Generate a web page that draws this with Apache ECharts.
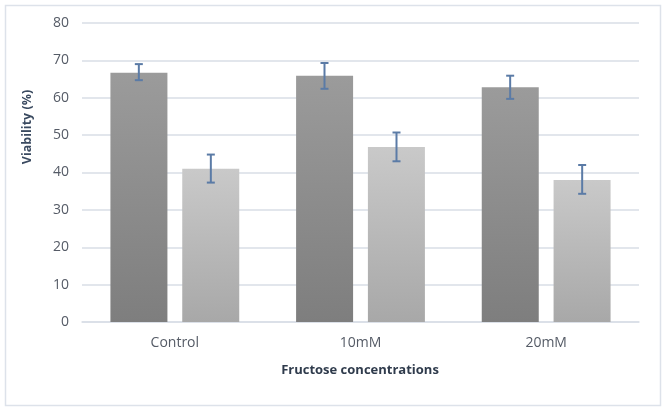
<!DOCTYPE html>
<html>
<head>
    <meta charset="utf-8">
    <title>Viability</title>
    <script src="https://cdn.jsdelivr.net/npm/echarts@6/dist/echarts.min.js"></script>
    <style>
        html, body { margin: 0; padding: 0; background: #fff; }
        #main { width: 663px; height: 407px; }
    </style>
</head>
<body>
<div id="main"></div>
<script>
    // data
    var categories = ['Control', '10mM', '20mM'];
    var yTicks = [0, 10, 20, 30, 40, 50, 60, 70, 80];
    var darkValues = [66.7, 65.9, 62.8];
    var darkLow = [64.7, 62.4, 59.7];
    var darkHigh = [69.0, 69.3, 65.9];
    var lightValues = [41.0, 46.8, 38.0];
    var lightLow = [37.3, 43.0, 34.3];
    var lightHigh = [44.8, 50.7, 42.0];

    var barW = 57;
    var pairOffset = 36; // half of (bar width + gap)

    function errData(low, high) {
        return categories.map(function (c, i) { return [i, low[i], high[i]]; });
    }

    function errRender(offset) {
        return function (params, api) {
            var lo = api.coord([api.value(0), api.value(1)]);
            var hi = api.coord([api.value(0), api.value(2)]);
            var x = lo[0] + offset;
            var cap = 4;
            var style = { stroke: '#5b7ba6', lineWidth: 2 };
            return {
                type: 'group',
                children: [
                    { type: 'line', shape: { x1: x, y1: hi[1], x2: x, y2: lo[1] }, style: style },
                    { type: 'line', shape: { x1: x - cap, y1: hi[1], x2: x + cap, y2: hi[1] }, style: style },
                    { type: 'line', shape: { x1: x - cap, y1: lo[1], x2: x + cap, y2: lo[1] }, style: style }
                ]
            };
        };
    }

    var chart = echarts.init(document.getElementById('main'));
    chart.setOption({
        animation: false,
        textStyle: { fontFamily: 'Open Sans' },
        grid: { left: 82, right: 24, top: 23, bottom: 85 },
        graphic: [
            {
                type: 'rect', left: 3, top: 3, silent: true,
                shape: { width: 655, height: 400 },
                style: { fill: 'none', stroke: '#dde2ea', lineWidth: 1.5 }
            },
            {
                type: 'text', x: 27, y: 127, rotation: Math.PI / 2,
                style: {
                    text: 'Viability (%)', fill: '#3a4a60',
                    font: 'bold 12.5px "Open Sans"', align: 'center', verticalAlign: 'middle'
                }
            },
            {
                type: 'text', x: 360, y: 370,
                style: {
                    text: 'Fructose concentrations', fill: '#2f3b4c',
                    font: 'bold 13px "Open Sans"', align: 'center', verticalAlign: 'middle'
                }
            }
        ],
        xAxis: {
            type: 'category',
            data: categories,
            axisLine: { lineStyle: { color: '#d9dee6', width: 1.5 } },
            axisTick: { show: false },
            axisLabel: { color: '#555b66', fontSize: 14, margin: 14 }
        },
        yAxis: {
            type: 'value',
            min: yTicks[0],
            max: yTicks[yTicks.length - 1],
            interval: 10,
            axisLine: { show: false },
            axisTick: { show: false },
            splitLine: { lineStyle: { color: '#d9dee6', width: 1.5 } },
            axisLabel: { color: '#555b66', fontSize: 14, margin: 13 }
        },
        series: [
            {
                name: 'Series 1',
                type: 'bar',
                barWidth: barW,
                barGap: '26%',
                data: darkValues,
                itemStyle: {
                    color: new echarts.graphic.LinearGradient(0, 0, 0, 1, [
                        { offset: 0, color: '#9b9b9b' },
                        { offset: 1, color: '#7e7e7e' }
                    ])
                }
            },
            {
                name: 'Series 2',
                type: 'bar',
                barWidth: barW,
                data: lightValues,
                itemStyle: {
                    color: new echarts.graphic.LinearGradient(0, 0, 0, 1, [
                        { offset: 0, color: '#c9c9c9' },
                        { offset: 1, color: '#a8a8a8' }
                    ])
                }
            },
            {
                type: 'custom',
                renderItem: errRender(-pairOffset),
                data: errData(darkLow, darkHigh),
                z: 10
            },
            {
                type: 'custom',
                renderItem: errRender(pairOffset),
                data: errData(lightLow, lightHigh),
                z: 10
            }
        ]
    });
</script>
</body>
</html>
